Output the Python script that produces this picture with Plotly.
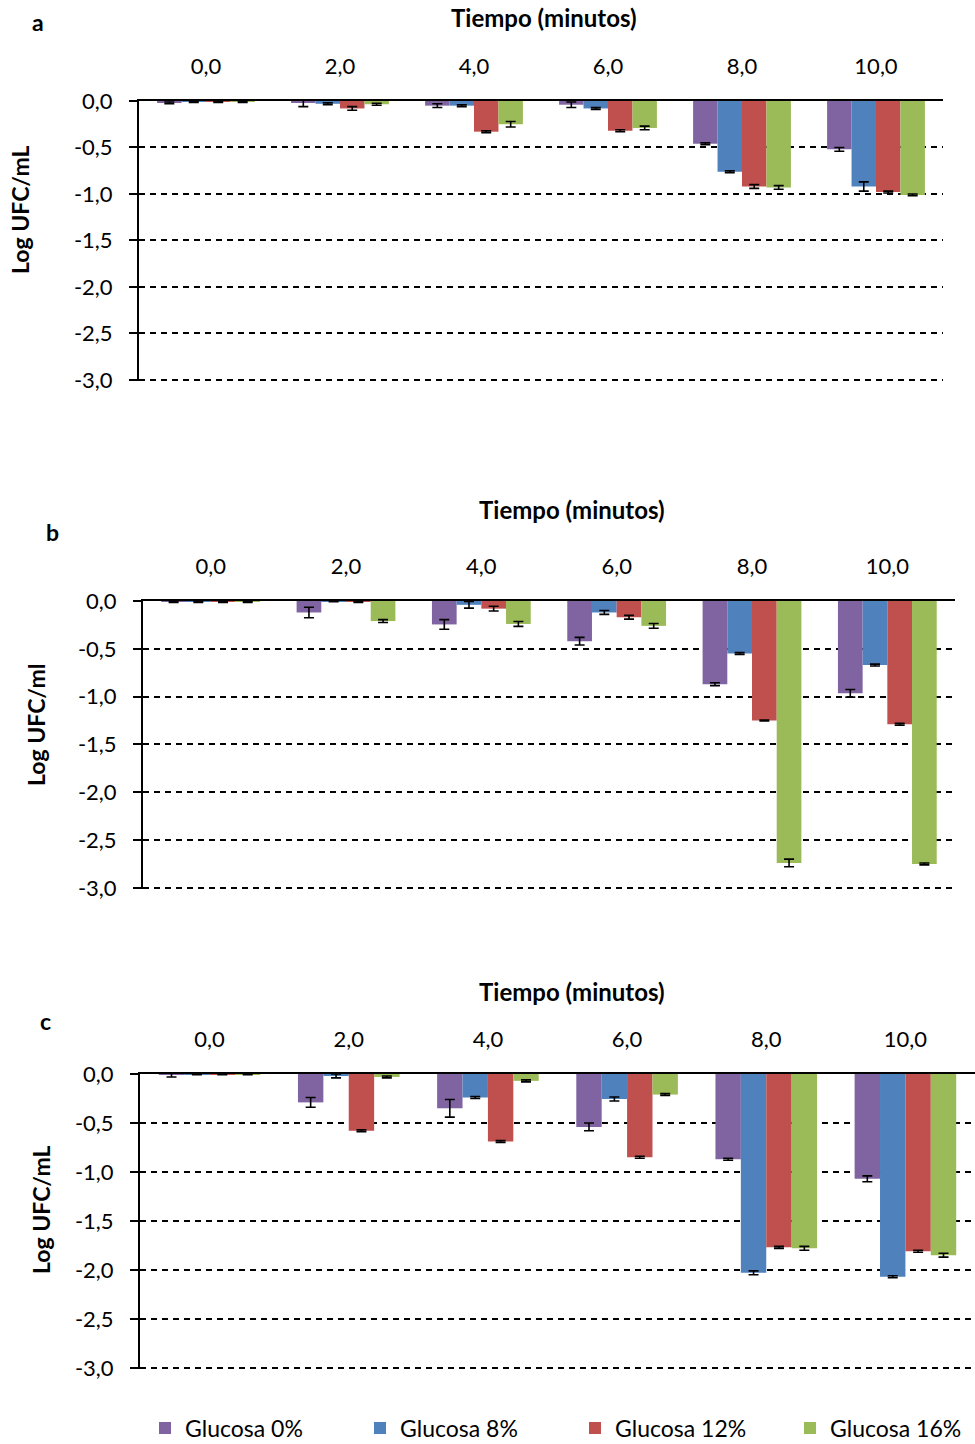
import plotly.graph_objects as go
from plotly.subplots import make_subplots

# Exposure time categories (minutes) and y-axis tick labels
minutes = ["0,0", "2,0", "4,0", "6,0", "8,0", "10,0"]
y_ticks = [0, -0.5, -1.0, -1.5, -2.0, -2.5, -3.0]
y_tick_text = ["0,0", "-0,5", "-1,0", "-1,5", "-2,0", "-2,5", "-3,0"]

series_names = ["Glucosa 0%", "Glucosa 8%", "Glucosa 12%", "Glucosa 16%"]
series_colors = ["#8064A2", "#4F81BD", "#C0504D", "#9BBB59"]

# Panel a: log reduction (Log UFC/mL) and standard deviation
a_g0 = [-0.02, -0.02, -0.05, -0.04, -0.46, -0.52]
a_g0_err = [0.01, 0.04, 0.02, 0.03, 0.01, 0.02]
a_g8 = [-0.01, -0.03, -0.05, -0.08, -0.76, -0.92]
a_g8_err = [0.005, 0.01, 0.01, 0.01, 0.01, 0.05]
a_g12 = [-0.01, -0.08, -0.33, -0.32, -0.92, -0.98]
a_g12_err = [0.005, 0.02, 0.01, 0.01, 0.02, 0.01]
a_g16 = [-0.01, -0.035, -0.25, -0.29, -0.93, -1.01]
a_g16_err = [0.005, 0.01, 0.03, 0.02, 0.02, 0.01]

# Panel b
b_g0 = [-0.01, -0.12, -0.245, -0.42, -0.87, -0.965]
b_g0_err = [0.005, 0.055, 0.05, 0.04, 0.015, 0.04]
b_g8 = [-0.01, -0.005, -0.04, -0.12, -0.55, -0.67]
b_g8_err = [0.005, 0.003, 0.035, 0.02, 0.01, 0.01]
b_g12 = [-0.01, -0.01, -0.08, -0.17, -1.25, -1.29]
b_g12_err = [0.005, 0.005, 0.025, 0.02, 0.005, 0.01]
b_g16 = [-0.01, -0.21, -0.24, -0.26, -2.74, -2.75]
b_g16_err = [0.005, 0.015, 0.025, 0.025, 0.04, 0.01]

# Panel c
c_g0 = [-0.01, -0.29, -0.35, -0.54, -0.87, -1.07]
c_g0_err = [0.02, 0.05, 0.09, 0.04, 0.01, 0.03]
c_g8 = [-0.005, -0.02, -0.24, -0.255, -2.03, -2.07]
c_g8_err = [0.003, 0.02, 0.01, 0.02, 0.02, 0.01]
c_g12 = [-0.005, -0.58, -0.69, -0.85, -1.77, -1.81]
c_g12_err = [0.003, 0.01, 0.01, 0.01, 0.01, 0.01]
c_g16 = [-0.005, -0.03, -0.07, -0.21, -1.78, -1.85]
c_g16_err = [0.003, 0.01, 0.01, 0.01, 0.02, 0.02]

panels = [
    ([a_g0, a_g8, a_g12, a_g16], [a_g0_err, a_g8_err, a_g12_err, a_g16_err]),
    ([b_g0, b_g8, b_g12, b_g16], [b_g0_err, b_g8_err, b_g12_err, b_g16_err]),
    ([c_g0, c_g8, c_g12, c_g16], [c_g0_err, c_g8_err, c_g12_err, c_g16_err]),
]

W, H = 975, 1444
FONT = "Lato, Carlito, 'Liberation Sans', sans-serif"

fig = make_subplots(rows=3, cols=1)

for r, (vals, errs) in enumerate(panels, start=1):
    for i in range(4):
        fig.add_trace(
            go.Bar(
                x=minutes,
                y=vals[i],
                name=series_names[i],
                marker=dict(color=series_colors[i], line=dict(width=0)),
                error_y=dict(type="data", array=errs[i], visible=True,
                             color="black", thickness=1.6, width=5),
                showlegend=(r == 3),
                legendgroup=series_names[i],
            ),
            row=r, col=1,
        )

# Plot-area boxes in pixels: (left, right, top, bottom)
boxes = [(139, 943, 101, 381), (143, 955, 601, 889), (140, 975, 1074, 1369)]

def px_x(v):
    return v / W

def px_y(v):
    return 1 - v / H

for idx, (l, rgt, t, b) in enumerate(boxes, start=1):
    xa = "xaxis" if idx == 1 else f"xaxis{idx}"
    ya = "yaxis" if idx == 1 else f"yaxis{idx}"
    fig.layout[xa].update(
        domain=[px_x(l), min(px_x(rgt), 1.0)],
        side="top", automargin=False,
        showline=True, linecolor="black", linewidth=2,
        ticks="", showgrid=False,
        tickfont=dict(family=FONT, size=22, color="black"),
        ticklabelstandoff=16,
    )
    fig.layout[ya].update(
        domain=[px_y(b), px_y(t)],
        range=[-3.012, 0.0], automargin=False,
        tickvals=y_ticks, ticktext=y_tick_text,
        showline=True, linecolor="black", linewidth=2,
        ticks="outside", ticklen=8, tickwidth=1.5, tickcolor="black",
        showgrid=True, gridcolor="black", gridwidth=1.5, griddash="6px,5px",
        zeroline=False,
        tickfont=dict(family=FONT, size=22, color="black"),
        ticklabelstandoff=12,
    )

annotations = []
# Panel letters
for letter, (x, y) in zip(["a", "b", "c"], [(38, 22), (52, 532), (45, 1021)]):
    annotations.append(dict(text=f"<b>{letter}</b>", x=px_x(x), y=px_y(y),
                            xref="paper", yref="paper", showarrow=False,
                            xanchor="center", yanchor="middle",
                            font=dict(family=FONT, size=23, color="black")))
# Time axis titles
for (x, y) in [(544, 18), (572, 509), (572, 991)]:
    annotations.append(dict(text="<b>Tiempo (minutos)</b>", x=px_x(x), y=px_y(y),
                            xref="paper", yref="paper", showarrow=False,
                            xanchor="center", yanchor="middle",
                            font=dict(family=FONT, size=24, color="black")))
# Y axis titles
for txt, (x, y) in zip(["Log UFC/mL", "Log UFC/ml", "Log UFC/mL"],
                       [(20, 210), (36, 725), (41, 1210)]):
    annotations.append(dict(text=f"<b>{txt}</b>", x=px_x(x), y=px_y(y),
                            xref="paper", yref="paper", showarrow=False,
                            xanchor="center", yanchor="middle",
                            textangle=-90,
                            font=dict(family=FONT, size=23, color="black")))

fig.update_layout(
    width=W, height=H,
    margin=dict(l=0, r=0, t=0, b=0, autoexpand=False),
    paper_bgcolor="white", plot_bgcolor="white",
    barmode="group", bargap=0.27, bargroupgap=0,
    annotations=annotations,
    legend=dict(
        orientation="h", x=px_x(145), y=px_y(1428), yanchor="middle", xanchor="left",
        font=dict(family=FONT, size=23, color="black"),
        entrywidth=170, entrywidthmode="pixels",
        itemwidth=30, traceorder="normal",
    ),
    font=dict(family=FONT, color="black"),
)

fig.write_html("out.html")
